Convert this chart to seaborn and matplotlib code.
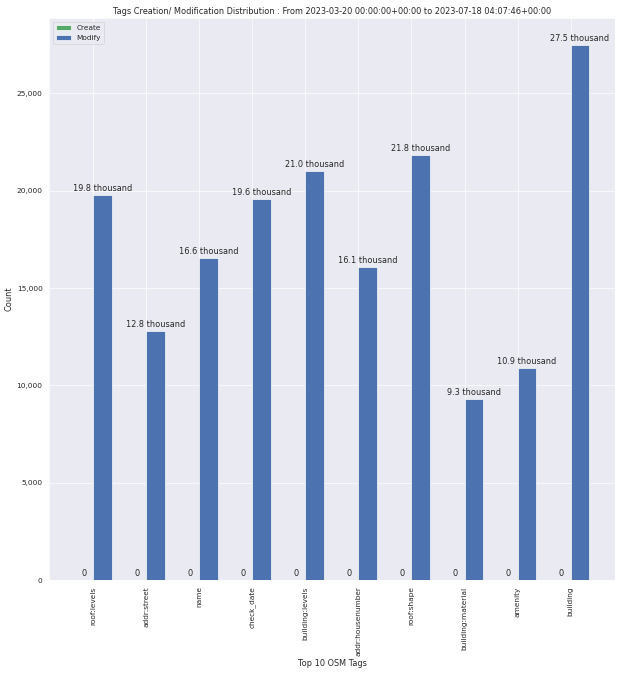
import numpy as np
import pandas as pd
import matplotlib
matplotlib.use("Agg")
import matplotlib.pyplot as plt
import matplotlib.ticker as mticker
import seaborn as sns

tags = ["roof:levels", "addr:street", "name", "check_date", "building:levels",
        "addr:housenumber", "roof:shape", "building:material", "amenity", "building"]
create_counts = [0, 0, 0, 0, 0, 0, 0, 0, 0, 0]
modify_counts = [19800, 12800, 16550, 19560, 21000, 16080, 21820, 9280, 10880, 27500]

sns.set_theme(style="darkgrid")
pal = sns.color_palette("deep")

fig, ax = plt.subplots(figsize=(12.8, 14.015), dpi=48.52)
fig.subplots_adjust(left=0.079, right=0.99, top=0.9735, bottom=0.147)

x = np.arange(len(tags))
width = 0.35
b1 = ax.bar(x - width / 2, create_counts, width, label="Create", color=pal[2])
b2 = ax.bar(x + width / 2, modify_counts, width, label="Modify", color=pal[0])

ax.bar_label(b1, labels=[f"{v}" for v in create_counts], padding=3)
ax.bar_label(b2, labels=[f"{v / 1000:.1f} thousand" for v in modify_counts], padding=3)

ax.set_xticks(x)
ax.set_xticklabels(tags, rotation=90)
ax.tick_params(labelsize=11)
ax.yaxis.set_major_formatter(mticker.StrMethodFormatter("{x:,.0f}"))
ax.set_xlabel("Top 10 OSM Tags")
ax.set_ylabel("Count")
ax.set_title("Tags Creation/ Modification Distribution : From 2023-03-20 00:00:00+00:00 to 2023-07-18 04:07:46+00:00")
ax.legend(loc="upper left")

fig.savefig("out.png")
